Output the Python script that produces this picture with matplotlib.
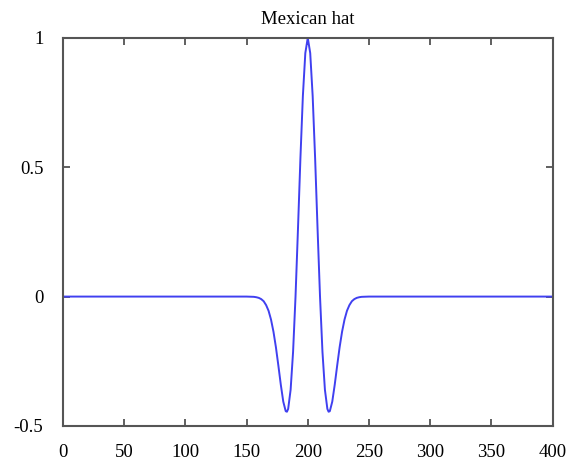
import matplotlib
matplotlib.use("Agg")
import matplotlib.pyplot as plt

# x positions and values
x_vals = [0, 150, 156, 158, 160, 162, 164, 166, 168, 170, 172, 174, 176, 178,
          180, 182, 183, 184, 186, 188, 190, 192, 194, 196, 198, 200,
          202, 204, 206, 208, 210, 212, 214, 216, 217, 218, 220, 222, 224,
          226, 228, 230, 232, 234, 236, 238, 240, 242, 244, 250, 400]
y_vals = [0.0, 0.0, -0.001, -0.0025, -0.005, -0.0098, -0.018, -0.033, -0.055, -0.089,
          -0.136, -0.196, -0.267, -0.341, -0.406, -0.443, -0.445, -0.434, -0.360, -0.214,
          0.0, 0.261, 0.535, 0.775, 0.941, 1.0,
          0.941, 0.775, 0.535, 0.261, 0.0, -0.214, -0.360, -0.434, -0.445, -0.443,
          -0.406, -0.341, -0.267, -0.196, -0.136, -0.089, -0.055, -0.033, -0.018,
          -0.0098, -0.005, -0.0025, -0.001, 0.0, 0.0]

x_ticks = [0, 50, 100, 150, 200, 250, 300, 350, 400]
y_ticks = [-0.5, 0, 0.5, 1]
y_tick_labels = ["-0.5", "0", "0.5", "1"]
title = "Mexican hat"

plt.rcParams['font.family'] = ['Liberation Serif', 'DejaVu Serif']

fig = plt.figure(figsize=(5.71, 4.61), dpi=100)
ax = fig.add_axes([0.110, 0.076, 0.858, 0.842])
ax.plot(x_vals, y_vals, color='#4040f0', linewidth=1.4)

ax.set_xlim(0, 400)
ax.set_ylim(-0.5, 1)
ax.set_xticks(x_ticks)
ax.set_xticklabels([str(t) for t in x_ticks])
ax.set_yticks(y_ticks)
ax.set_yticklabels(y_tick_labels)
ax.tick_params(direction='in', length=5, width=1.2, color='#444444',
               top=True, right=True, labelsize=13.5)
ax.tick_params(axis='x', pad=13)
ax.tick_params(axis='y', pad=14)
for s in ax.spines.values():
    s.set_color('#555555')
    s.set_linewidth(1.5)
ax.set_title(title, fontsize=13.5, pad=10)

fig.savefig("out.png", dpi=100)
